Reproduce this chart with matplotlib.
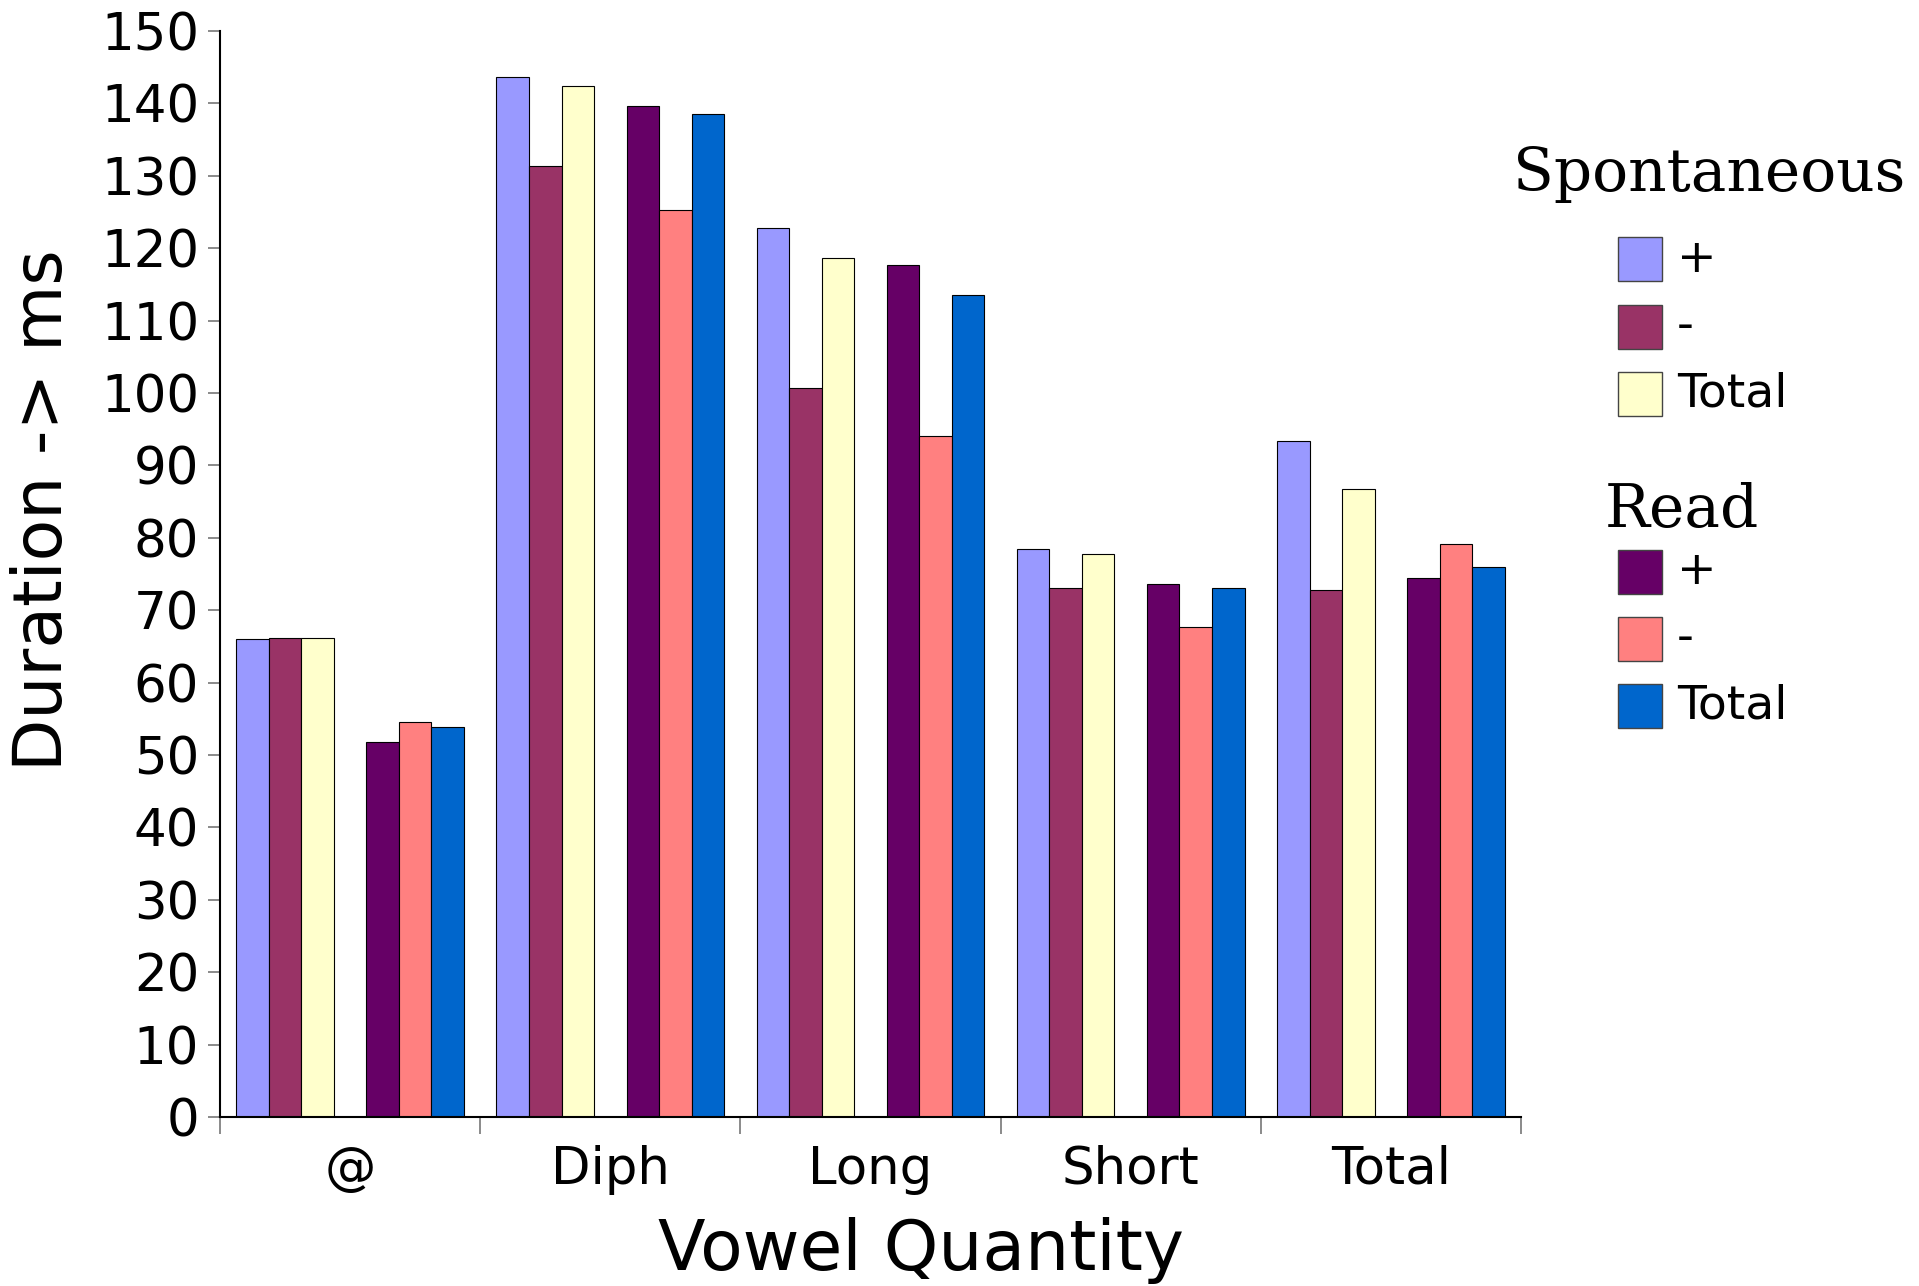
import numpy as np
import matplotlib.pyplot as plt
from matplotlib.patches import Rectangle

categories = ['@', 'Diph', 'Long', 'Short', 'Total']

spont_plus = [66.0, 143.6, 122.8, 78.4, 93.4]
spont_minus = [66.2, 131.3, 100.7, 73.0, 72.8]
spont_total = [66.1, 142.4, 118.6, 77.7, 86.8]
read_plus = [51.8, 139.7, 117.7, 73.6, 74.5]
read_minus = [54.6, 125.3, 94.1, 67.7, 79.1]
read_total = [53.9, 138.5, 113.5, 73.0, 76.0]

spont_colors = ['#9999FF', '#993366', '#FFFFCC']
read_colors = ['#660066', '#FF8080', '#0066CC']
entry_labels = ['+', '-', 'Total']

W, H = 1919, 1286
fig = plt.figure(figsize=(W / 100, H / 100), dpi=100)
ax = fig.add_axes([220 / W, 1 - 1117 / H, (1521 - 220) / W, (1117 - 31) / H])

x = np.arange(len(categories))
bw = 0.125
spont = [spont_plus, spont_minus, spont_total]
read = [read_plus, read_minus, read_total]
for k in range(3):
    ax.bar(x + 0.0625 + bw * k, spont[k], width=bw, align='edge',
           color=spont_colors[k], edgecolor='black', linewidth=0.8)
    ax.bar(x + 0.5625 + bw * k, read[k], width=bw, align='edge',
           color=read_colors[k], edgecolor='black', linewidth=0.8)

ax.set_xlim(0, 5)
ax.set_ylim(0, 150)
ax.set_yticks(np.arange(0, 151, 10))
ax.set_xticks(x + 0.5)
ax.set_xticklabels(categories)
ax.set_xticks(np.arange(0, 6), minor=True)
ax.tick_params(axis='x', which='major', length=0, pad=20, labelsize=37)
ax.tick_params(axis='x', which='minor', length=12, color='#777777', width=1.2)
ax.tick_params(axis='y', length=9, color='#777777', width=1.2, pad=6, labelsize=37)
for s in ['top', 'right']:
    ax.spines[s].set_visible(False)
ax.spines['left'].set_linewidth(1.5)
ax.spines['bottom'].set_linewidth(1.5)

fig.text(921 / W, 1 - 1250 / H, 'Vowel Quantity', fontsize=50, ha='center', va='center')
fig.text(43 / W, 1 - 510 / H, 'Duration -> ms', fontsize=49, ha='center', va='center',
         rotation=90)

# legend
fig.text(1513 / W, 1 - 174 / H, 'Spontaneous', family='DejaVu Serif', fontsize=43,
         ha='left', va='center')
fig.text(1605 / W, 1 - 510 / H, 'Read', family='DejaVu Serif', fontsize=43,
         ha='left', va='center')
box = 44
for colors, ys in [(spont_colors, [259, 327, 394]), (read_colors, [572, 639, 706])]:
    for c, yc, lab in zip(colors, ys, entry_labels):
        fig.add_artist(Rectangle((1618 / W, 1 - (yc + box / 2) / H), box / W, box / H,
                                 transform=fig.transFigure, facecolor=c,
                                 edgecolor='#444444', linewidth=1))
        fig.text(1677 / W, 1 - yc / H, lab, fontsize=34, ha='left', va='center')

fig.savefig('out.png', dpi=100)
